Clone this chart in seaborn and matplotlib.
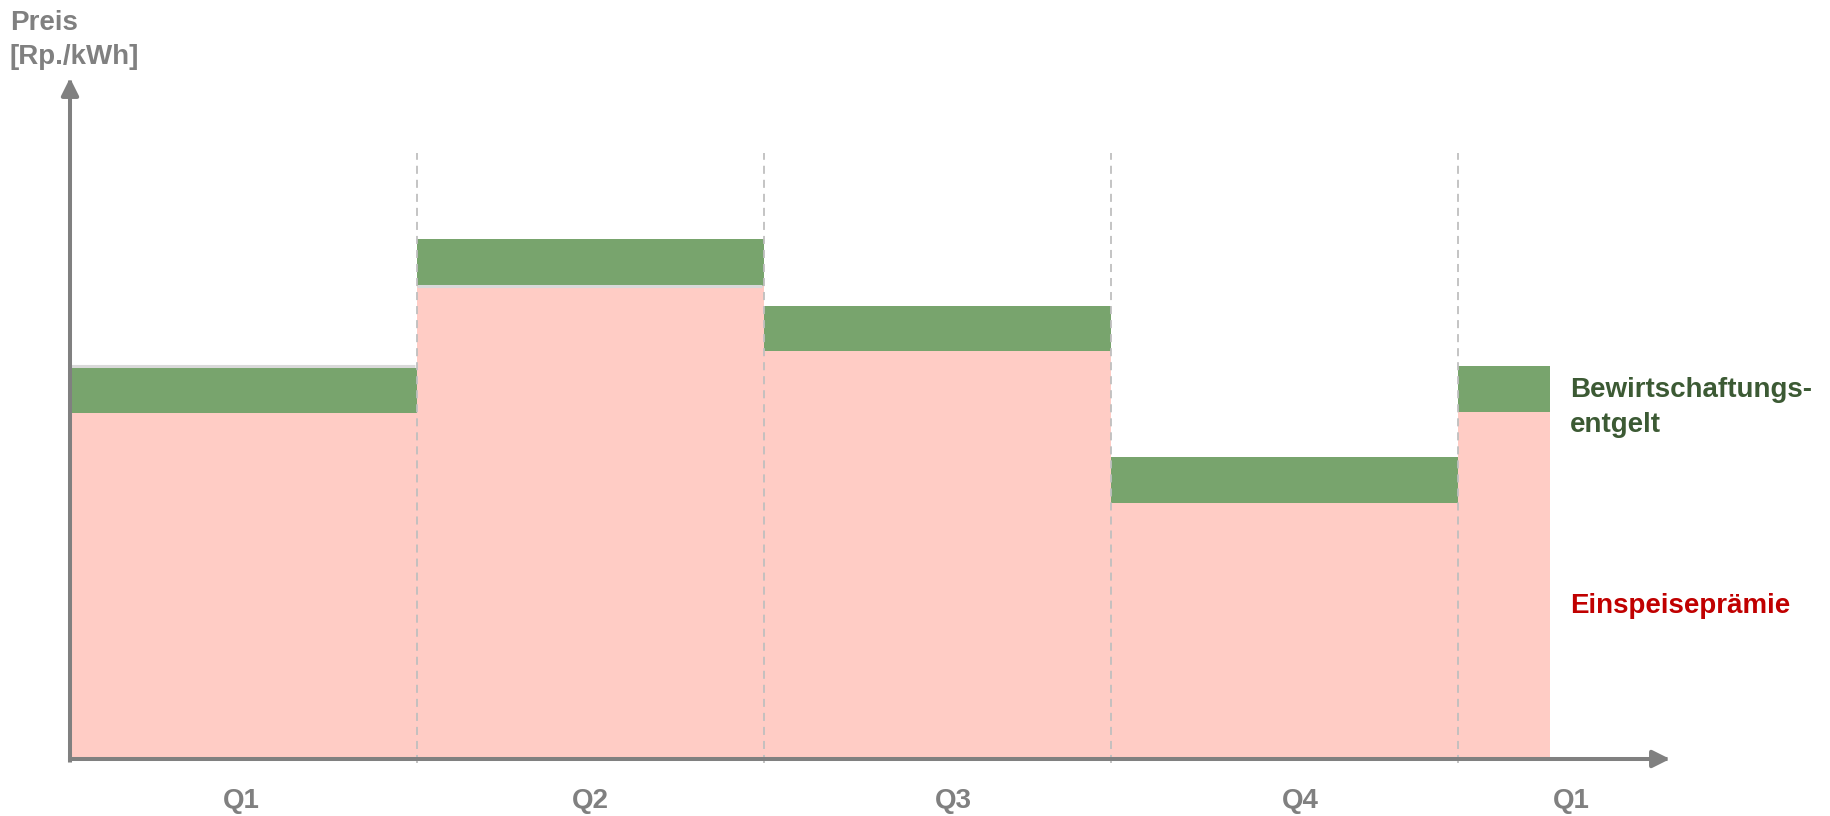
import numpy as np
import pandas as pd
import matplotlib
matplotlib.use("Agg")
import matplotlib.pyplot as plt
import seaborn as sns

# quarter segments (in quarter units), last one is a partial Q1
edges = [0, 1, 2, 3, 4, 4.265]
praemie = [6.92, 9.46, 8.16, 5.12, 6.94]      # Einspeiseprämie
entgelt = [0.90, 0.94, 0.90, 0.92, 0.92]      # Bewirtschaftungsentgelt
quarters = ["Q1", "Q2", "Q3", "Q4", "Q1"]
label_pos = [0.493, 1.499, 2.545, 3.545, 4.326]

PINK = "#FFCCC5"
GREEN = "#78A46D"
GREY = "#808080"

sns.set_style("white")
plt.rcParams["font.family"] = ["Liberation Sans", "DejaVu Sans"]
plt.rcParams["lines.scale_dashes"] = False

W, H = 1831, 816
fig = plt.figure(figsize=(W / 100, H / 100), dpi=100)
x0, y0 = 70, 759          # axis origin in pixels
xtip, ytip = 1670, 78
ax = fig.add_axes([x0 / W, (H - y0) / H, (xtip - x0) / W, (y0 - ytip) / H])

centers = [(a + b) / 2 for a, b in zip(edges[:-1], edges[1:])]
df = pd.DataFrame({
    "x": centers * 2,
    "value": entgelt + praemie,
    "part": ["Bewirtschaftungsentgelt"] * 5 + ["Einspeiseprämie"] * 5,
})
sns.histplot(data=df, x="x", weights="value", hue="part", bins=edges,
             multiple="stack", element="step", fill=True, alpha=1, linewidth=0,
             hue_order=["Bewirtschaftungsentgelt", "Einspeiseprämie"],
             palette={"Bewirtschaftungsentgelt": GREEN, "Einspeiseprämie": PINK},
             legend=False, ax=ax)

ax.set_xlim(0, (xtip - x0) / 347)
ax.set_ylim(0, (y0 - ytip) / 50)
ax.set_xlabel("")
ax.set_ylabel("")
ax.set_xticks([])
ax.set_yticks([])
for s in ax.spines.values():
    s.set_visible(False)

# thin grey edges seen on top of the first two blocks
ax.hlines(praemie[0] + entgelt[0] + 0.05, 0, 0.995, color="#d9d9d9", lw=2.2, zorder=3)
ax.hlines(praemie[1] - 0.01, 1, 1.995, color="#d9d9d9", lw=2.2, zorder=3)

# dashed quarter separators
for e in edges[1:5]:
    ax.plot([e, e], [-0.08, 12.12], color="#bfbfbf", lw=1.3,
            linestyle=(0, (5.8, 4.3)), zorder=4, clip_on=False)

# axes with arrow heads
arrow = dict(arrowstyle="-|>", color=GREY, lw=2.9, mutation_scale=26,
             shrinkA=0, shrinkB=0, capstyle="projecting")
ax.annotate("", xy=(ax.get_xlim()[1], 0), xytext=(0, 0), arrowprops=arrow,
            annotation_clip=False, zorder=5)
ax.annotate("", xy=(0, ax.get_ylim()[1]), xytext=(0, -0.03), arrowprops=arrow,
            annotation_clip=False, zorder=5)

for pos, q in zip(label_pos, quarters):
    ax.text(pos, -0.98, q, ha="center", va="baseline", fontsize=20,
            fontweight="bold", color=GREY, clip_on=False)

fig.text(10 / W, 1 - 30 / H, "Preis", fontsize=20, fontweight="bold",
         color=GREY, va="baseline")
fig.text(10 / W, 1 - 64 / H, "[Rp./kWh]", fontsize=20, fontweight="bold",
         color=GREY, va="baseline")
fig.text(1570 / W, 1 - 397 / H, "Bewirtschaftungs-", fontsize=20,
         fontweight="bold", color="#3C5A34", va="baseline")
fig.text(1570 / W, 1 - 432 / H, "entgelt", fontsize=20,
         fontweight="bold", color="#3C5A34", va="baseline")
fig.text(1570 / W, 1 - 613 / H, "Einspeiseprämie", fontsize=20,
         fontweight="bold", color="#C00000", va="baseline")

fig.savefig("out.png", dpi=100)
